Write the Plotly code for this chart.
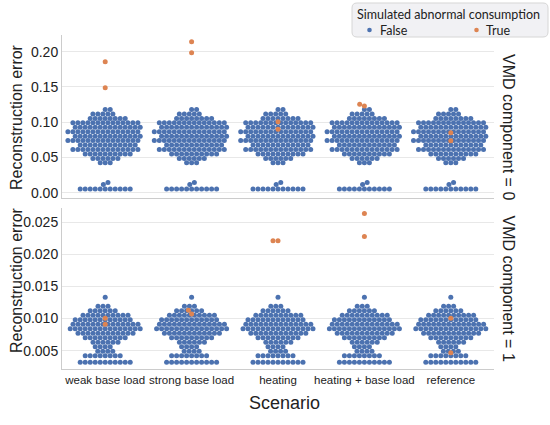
import math
import plotly.graph_objects as go

# ---------------- data ----------------
scenarios = ["weak base load", "strong base load", "heating",
             "heating + base load", "reference"]

# normal (False) consumption: reconstruction-error levels and number of points at each level
normal_levels_c0 = [0.0052, 0.0118, 0.0146, 0.0424, 0.0487, 0.0550, 0.0613, 0.0676,
                    0.0739, 0.0802, 0.0865, 0.0928, 0.0991, 0.1054, 0.1117, 0.1180]
normal_counts_c0 = [11, 1, 1, 3, 6, 10, 14, 12, 15, 14, 15, 14, 14, 8, 5, 2]

normal_levels_c1 = [0.00319, 0.00422, 0.0049, 0.0056, 0.0063, 0.0070, 0.0077, 0.0084,
                    0.0091, 0.0098, 0.0105, 0.0112, 0.0119, 0.0133]
normal_counts_c1 = [11, 8, 4, 4, 6, 9, 12, 15, 14, 12, 10, 6, 3, 1]

# abnormal (True) points, one list per scenario (same order as `scenarios`)
abnormal_c0 = [[0.1858, 0.1489], [0.2142, 0.1986], [0.1007, 0.0899],
               [0.1254, 0.1230], [0.0851, 0.0738]]
abnormal_c1 = [[0.01005, 0.0091], [0.0113, 0.0107], [0.0221, 0.0221],
               [0.02634, 0.02276], [0.01005, 0.00469]]

yticks_c0 = [0.00, 0.05, 0.10, 0.15, 0.20]
yticks_c1 = [0.005, 0.010, 0.015, 0.020, 0.025]

legend_title = "Simulated abnormal consumption"
legend_labels = ["False", "True"]

# ---------------- layout constants ----------------
W, H = 550, 425
ML, MR, MT, MB = 62, 56, 35, 56
PW, PH = W - ML - MR, H - MT - MB
ROW0_PX = (35, 198)
ROW1_PX = (208, 369)
YR0 = [-0.0075, 0.2237]
YR1 = [0.00215, 0.0272]
XR = [-0.5, len(scenarios) - 0.5]

BLUE = "#4C72B0"
ORANGE = "#DD8452"
DOT = 5.0
FONT = "Liberation Sans, Arial, sans-serif"
LFONT = "Lato, sans-serif"
TXT = "#222222"


def px2x(px):
    return (px - ML) / PW


def px2y(py):
    return (H - MB - py) / PH


def dom(px):
    return [px2y(px[1]), px2y(px[0])]


px_per_x = PW / (XR[1] - XR[0])
px_per_y0 = (ROW0_PX[1] - ROW0_PX[0]) / (YR0[1] - YR0[0])
px_per_y1 = (ROW1_PX[1] - ROW1_PX[0]) / (YR1[1] - YR1[0])


def swarm(values, py_per_unit, d=DOT):
    """Beeswarm layout: horizontal pixel offsets so that dots do not overlap."""
    order = sorted(range(len(values)), key=lambda i: values[i])
    placed = []
    offs = [0.0] * len(values)
    for i in order:
        y = values[i] * py_per_unit
        near = [(px, py) for px, py in placed if abs(py - y) < d]
        cands = [0.0]
        for px, py in near:
            dx = math.sqrt(max(d * d - (py - y) ** 2, 0.0))
            cands.extend([px - dx, px + dx])
        cands.sort(key=abs)
        choice = cands[-1]
        for c in cands:
            if all((c - px) ** 2 + (y - py) ** 2 >= d * d - 1e-6 for px, py in near):
                choice = c
                break
        placed.append((choice, y))
        offs[i] = choice
    return offs


def expand(levels, counts):
    vals = []
    for v, n in zip(levels, counts):
        vals.extend([v] * n)
    return vals


fig = go.Figure()

rows = [
    (normal_levels_c0, normal_counts_c0, abnormal_c0, px_per_y0, "x", "y"),
    (normal_levels_c1, normal_counts_c1, abnormal_c1, px_per_y1, "x2", "y2"),
]

for r, (lev, cnt, abn, ppy, xa, ya) in enumerate(rows):
    normal_vals = expand(lev, cnt)
    normal_offs = swarm(normal_vals, ppy)
    bx, by = [], []
    for k, _ in enumerate(scenarios):
        bx.extend([k + o / px_per_x for o in normal_offs])
        by.extend(normal_vals)
    fig.add_trace(go.Scatter(
        x=bx, y=by, mode="markers", name=legend_labels[0],
        showlegend=False, xaxis=xa, yaxis=ya,
        marker=dict(color=BLUE, size=DOT, line=dict(width=0)),
        hoverinfo="skip"))
    ox, oy = [], []
    for k, vals in enumerate(abn):
        offs = swarm(vals, ppy)
        ox.extend([k + o / px_per_x for o in offs])
        oy.extend(vals)
    fig.add_trace(go.Scatter(
        x=ox, y=oy, mode="markers", name=legend_labels[1],
        showlegend=False, xaxis=xa, yaxis=ya,
        marker=dict(color=ORANGE, size=DOT, line=dict(width=0)),
        hoverinfo="skip"))

axis_common = dict(showline=True, linecolor="#cccccc", linewidth=1, zeroline=False,
                   ticks="", mirror=False, automargin=False)

fig.update_layout(
    width=W, height=H,
    margin=dict(l=ML, r=MR, t=MT, b=MB),
    paper_bgcolor="white", plot_bgcolor="white",
    font=dict(family=FONT, color=TXT),
    showlegend=False,
    xaxis=dict(domain=[0, 1], range=XR, anchor="y", showticklabels=False,
               showgrid=False, **axis_common),
    xaxis2=dict(domain=[0, 1], range=XR, anchor="y2", showgrid=False, tickangle=0,
                tickvals=list(range(len(scenarios))), ticktext=scenarios,
                tickfont=dict(size=11.5, family=FONT, color=TXT), **axis_common),
    yaxis=dict(domain=dom(ROW0_PX), range=YR0, anchor="x",
               tickvals=yticks_c0, ticktext=["%.2f" % v for v in yticks_c0],
               tickfont=dict(size=14, family=FONT, color=TXT),
               showgrid=True, gridcolor="#e8e8e8", gridwidth=1, **axis_common),
    yaxis2=dict(domain=dom(ROW1_PX), range=YR1, anchor="x2",
                tickvals=yticks_c1, ticktext=["%.3f" % v for v in yticks_c1],
                tickfont=dict(size=14, family=FONT, color=TXT),
                showgrid=True, gridcolor="#e8e8e8", gridwidth=1, **axis_common),
)

ann = []
ann.append(dict(text="Scenario", x=px2x(284), y=px2y(403),
                xref="paper", yref="paper", showarrow=False,
                xanchor="center", yanchor="middle",
                font=dict(size=18, family=FONT, color=TXT)))
for ypx in (117, 280):
    ann.append(dict(text="Reconstruction error", x=px2x(16), y=px2y(ypx),
                    xref="paper", yref="paper", showarrow=False, textangle=-90,
                    xanchor="center", yanchor="middle",
                    font=dict(size=16, family=FONT, color=TXT)))
for txt, ypx in (("VMD component = 0", 127), ("VMD component = 1", 288.5)):
    ann.append(dict(text=txt, x=px2x(508), y=px2y(ypx),
                    xref="paper", yref="paper", showarrow=False, textangle=90,
                    xanchor="center", yanchor="middle",
                    font=dict(size=16, family=FONT, color=TXT)))

# ---- legend box (drawn by hand to match the rounded seaborn legend) ----
bx0, bx1, by0, by1, rad = 352, 548, 3, 37, 5


def P(px, py):
    return "%.5f,%.5f" % (px2x(px), px2y(py))


path = ("M " + P(bx0 + rad, by0) + " L " + P(bx1 - rad, by0) +
        " Q " + P(bx1, by0) + " " + P(bx1, by0 + rad) +
        " L " + P(bx1, by1 - rad) + " Q " + P(bx1, by1) + " " + P(bx1 - rad, by1) +
        " L " + P(bx0 + rad, by1) + " Q " + P(bx0, by1) + " " + P(bx0, by1 - rad) +
        " L " + P(bx0, by0 + rad) + " Q " + P(bx0, by0) + " " + P(bx0 + rad, by0) + " Z")
shapes = [dict(type="path", path=path, xref="paper", yref="paper",
               fillcolor="#f1f1f4", line=dict(color="#d6d6d6", width=1))]
ann.append(dict(text=legend_title, x=px2x(448.5), y=px2y(14.0), xref="paper",
                yref="paper", showarrow=False, xanchor="center", yanchor="middle",
                borderpad=0, font=dict(size=12.5, family=LFONT, color=TXT)))
for lbl, col, dot_x, txt_x in ((legend_labels[0], BLUE, 369.5, 379),
                               (legend_labels[1], ORANGE, 476.5, 485)):
    r_ = 2.3
    shapes.append(dict(type="circle", xref="paper", yref="paper",
                       x0=px2x(dot_x - r_), x1=px2x(dot_x + r_),
                       y0=px2y(30.0 + r_), y1=px2y(30.0 - r_),
                       fillcolor=col, line=dict(width=0)))
    ann.append(dict(text=lbl, x=px2x(txt_x), y=px2y(30.5), xref="paper",
                    yref="paper", showarrow=False, xanchor="left", yanchor="middle",
                    borderpad=0, font=dict(size=12.5, family=LFONT, color=TXT)))

fig.update_layout(annotations=ann, shapes=shapes)

fig.write_html("out.html", config={"displayModeBar": False},
               post_script="document.body.style.margin='0';document.body.style.padding='0';")
